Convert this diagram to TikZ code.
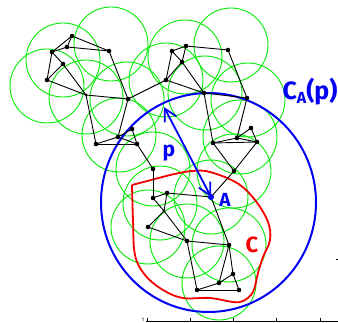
\documentclass[tikz,border=0pt]{standalone}
\usepackage{fontspec}
\setmainfont{Fira Sans}
\usetikzlibrary{arrows.meta}
\definecolor{grn}{RGB}{0,235,0}
\definecolor{blu}{RGB}{0,0,245}
\definecolor{rd}{RGB}{245,0,0}
\begin{document}
\begin{tikzpicture}[x=1pt,y=-1pt,
  dot/.style={circle,fill=black,inner sep=0pt,minimum size=4.6pt},
  rng/.style={draw=grn,line width=0.9pt},
  edge/.style={draw=black,line width=0.9pt},
  lbl/.style={inner sep=0pt,font=\bfseries}]
\useasboundingbox (0,0) rectangle (338,323);
% nodes
\foreach \n/\x/\y in {n1/72/36,n2/67/47,n3/52/52,n4/109/51,n5/63/64,n6/47/80,n7/86/95,n8/128/99,n9/166/80,
  n10/132/129,n11/118/137,n12/96/144,n13/137/144,m1/172/51,m2/186/46,m3/182/62,m4/228/50,m5/204/93,
  m6/247/98,m7/251/128,m8/237/138,m9/257/142,m10/213/143,q1/153/169,q2/234/171,A/211/197,q3/153/198,
  q4/167/193,q5/164/211,q6/148/227,q7/187/241,q8/229/245,q9/233/274,q10/219/283,q11/197/290,q12/239/290}
  {\coordinate (\n) at (\x,\y);}
% green ranges
\foreach \x/\y in {63/60,47/86,111/44,86/97,127/99,119/135,166/80,185/57,231/45,205/93,248/100,
  240/137,153/169,160/203,148/227,187/241,229/245,219/283,234/171,211/197}
  {\draw[rng] (\x,\y) circle[radius=37];}
% red region C
\draw[rd,line width=1.8pt] (132,185) -- (170,175)
  plot[smooth,tension=0.6] coordinates {(170,175) (192,171) (210,172) (237,183) (255,200) (268,222) (270,240)
  (263,257) (258,273) (253,292) (243,301) (233,302) (210,298) (183,298) (163,290) (145,275) (135,255) (133,220) (132,185)};
% blue circle
\draw[blu,line width=2pt] (208.5,202.5) ellipse[x radius=107.5,y radius=109.5];
% edges
\foreach \a/\b in {n1/n2,n1/n3,n1/n4,n2/n3,n2/n4,n3/n5,n3/n6,n5/n6,n5/n7,n6/n7,n7/n8,n4/n8,n7/n12,n8/n9,
  n8/n11,n12/n11,n11/n13,n12/n13,n10/n13,n10/n11,n13/q1,n9/m1,n9/m3,n9/m5,m1/m2,m1/m3,m2/m3,m2/m4,m3/m5,
  m4/m6,m5/m6,m5/m10,m6/m8,m8/m7,m7/m9,m8/m9,m10/m8,m10/m9,m10/q2,m9/q2,q2/A,q1/q3,q3/q4,q4/A,q3/q5,
  q4/q5,q5/q6,q5/q7,q6/q7,q7/q8,A/q8,q7/q11,q8/q10,q8/q9,q9/q10,q9/q12,q10/q11,q11/q12}
  {\draw[edge] (\a) -- (\b);}
\foreach \n in {n1,n2,n3,n4,n5,n6,n8,n9,n10,n11,n12,n13,m1,m2,m3,m4,m5,m6,m7,m8,m9,m10,
  q1,q2,q3,q4,q6,q7,q8,q9,q10,q11,q12}
  {\node[dot] at (\n) {};}
\foreach \n in {n7,q5} {\node[dot,minimum size=3pt] at (\n) {};}
\node[circle,fill=blu,inner sep=0pt,minimum size=6pt] (Adot) at (A) {};
% arrow p
\coordinate (ptop) at (164,107);
\draw[blu,line width=1.8pt,{Straight Barb[length=12pt,width=13pt]}-{Straight Barb[length=12pt,width=13pt]}] (ptop) -- (A);
% labels
\node[lbl,text=blu,font=\bfseries\fontsize{21}{21}\selectfont] (plbl) at (169,153) {p};
\node[lbl,text=blu,font=\bfseries\fontsize{19}{19}\selectfont] (Albl) at (225,200) {A};
\node[lbl,text=rd,font=\bfseries\fontsize{22}{22}\selectfont] (Clbl) at (252,245) {C};
\node[lbl,text=blu,font=\bfseries\fontsize{25}{25}\selectfont,anchor=base] (CAp) at (310,100)
  {C\raisebox{-0.25ex}{\fontsize{16}{16}\selectfont A}(p)};
% axis remnant
\coordinate (ax0) at (146,321.5);
\coordinate (ax1) at (338,321.5);
\draw[black,line width=0.8pt] (ax0) -- (ax1);
\foreach \t in {147,190,233,276,320} {\draw[black,line width=0.6pt] (\t,321.5) -- (\t,318.5);}
\node[inner sep=0pt,font=\fontsize{5}{5}\selectfont] (one) at (143,319.5) {1};
\draw[black,line width=1pt] (335.5,260) -- (338,260);
\end{tikzpicture}
\end{document}
